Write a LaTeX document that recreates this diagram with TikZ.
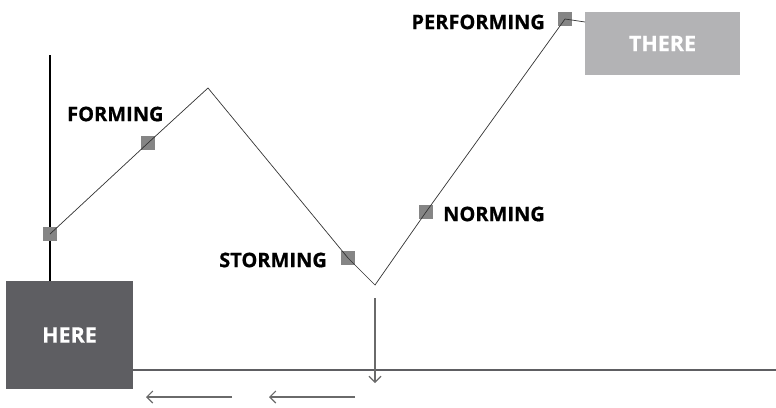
\documentclass[tikz,border=0pt]{standalone}
\usepackage{fontspec}
\setmainfont{Open Sans}
\newfontfamily\heavyfont[UprightFeatures={FakeBold=0.6},BoldFeatures={FakeBold=0.6}]{Open Sans}
\usetikzlibrary{arrows.meta}
\definecolor{darkbox}{HTML}{5E5E62}
\definecolor{lightbox}{HTML}{B3B3B5}
\definecolor{marker}{HTML}{858585}
\definecolor{arrowgray}{HTML}{6A6A6A}
\tikzset{
  mk/.style={draw=none,fill=marker,minimum size=14pt,inner sep=0pt},
  stage/.style={font=\heavyfont\bfseries\fontsize{20}{20}\selectfont,text=black,inner sep=0pt},
  bigbox/.style={draw=none,inner sep=0pt,text=white,font=\heavyfont\bfseries\fontsize{21.5}{21.5}\selectfont},
  pathline/.style={draw=black!80,line width=0.7pt},
  garrow/.style={draw=arrowgray,line width=1.1pt,-{Straight Barb[length=6pt,width=12pt]}}
}
\begin{document}
\begin{tikzpicture}[x=1pt,y=-1pt]
\useasboundingbox (0,0) rectangle (776,407);
% boxes
\node[bigbox,fill=darkbox,minimum width=127pt,minimum height=108pt] (here) at (69.5,335) {HERE};
\node[bigbox,fill=lightbox,minimum width=155pt,minimum height=63pt] (there) at (662.5,43.5) {THERE};
% axes
\coordinate (vtop) at (50,55);
\draw[black,line width=1.2pt] (vtop) -- (vtop |- here.north);
\coordinate (hend) at (776,370);
\draw[darkbox,line width=1.6pt] (here.east |- hend) -- (hend);
% markers
\node[mk] (m1) at (50,234) {};
\node[mk] (m2) at (148,143) {};
\node[mk] (m3) at (348,258) {};
\node[mk] (m4) at (426,212) {};
\node[mk] (m5) at (565,19) {};
\coordinate (peak) at (208,88);
\coordinate (low) at (375,285);
\coordinate (tin) at (585,22);
\draw[pathline] (m1.center) -- (m2.center) -- (peak) -- (m3.center) -- (low) -- (m4.center) -- (m5.center) -- (tin);
% labels
\node[stage,anchor=west] (lf) at (67,114) {FORMING};
\node[stage,anchor=east] (ls) at (327,260) {STORMING};
\node[stage,anchor=west] (ln) at (443,214) {NORMING};
\node[stage,anchor=east] (lp) at (545,22) {PERFORMING};
% arrows
\coordinate (da) at (375,298);
\coordinate (db) at (375,383);
\draw[garrow] (da) -- (db);
\coordinate (a1s) at (232,397);
\coordinate (a1e) at (146,397);
\draw[garrow] (a1s) -- (a1e);
\coordinate (a2s) at (355,397);
\coordinate (a2e) at (269,397);
\draw[garrow] (a2s) -- (a2e);
\end{tikzpicture}
\end{document}
